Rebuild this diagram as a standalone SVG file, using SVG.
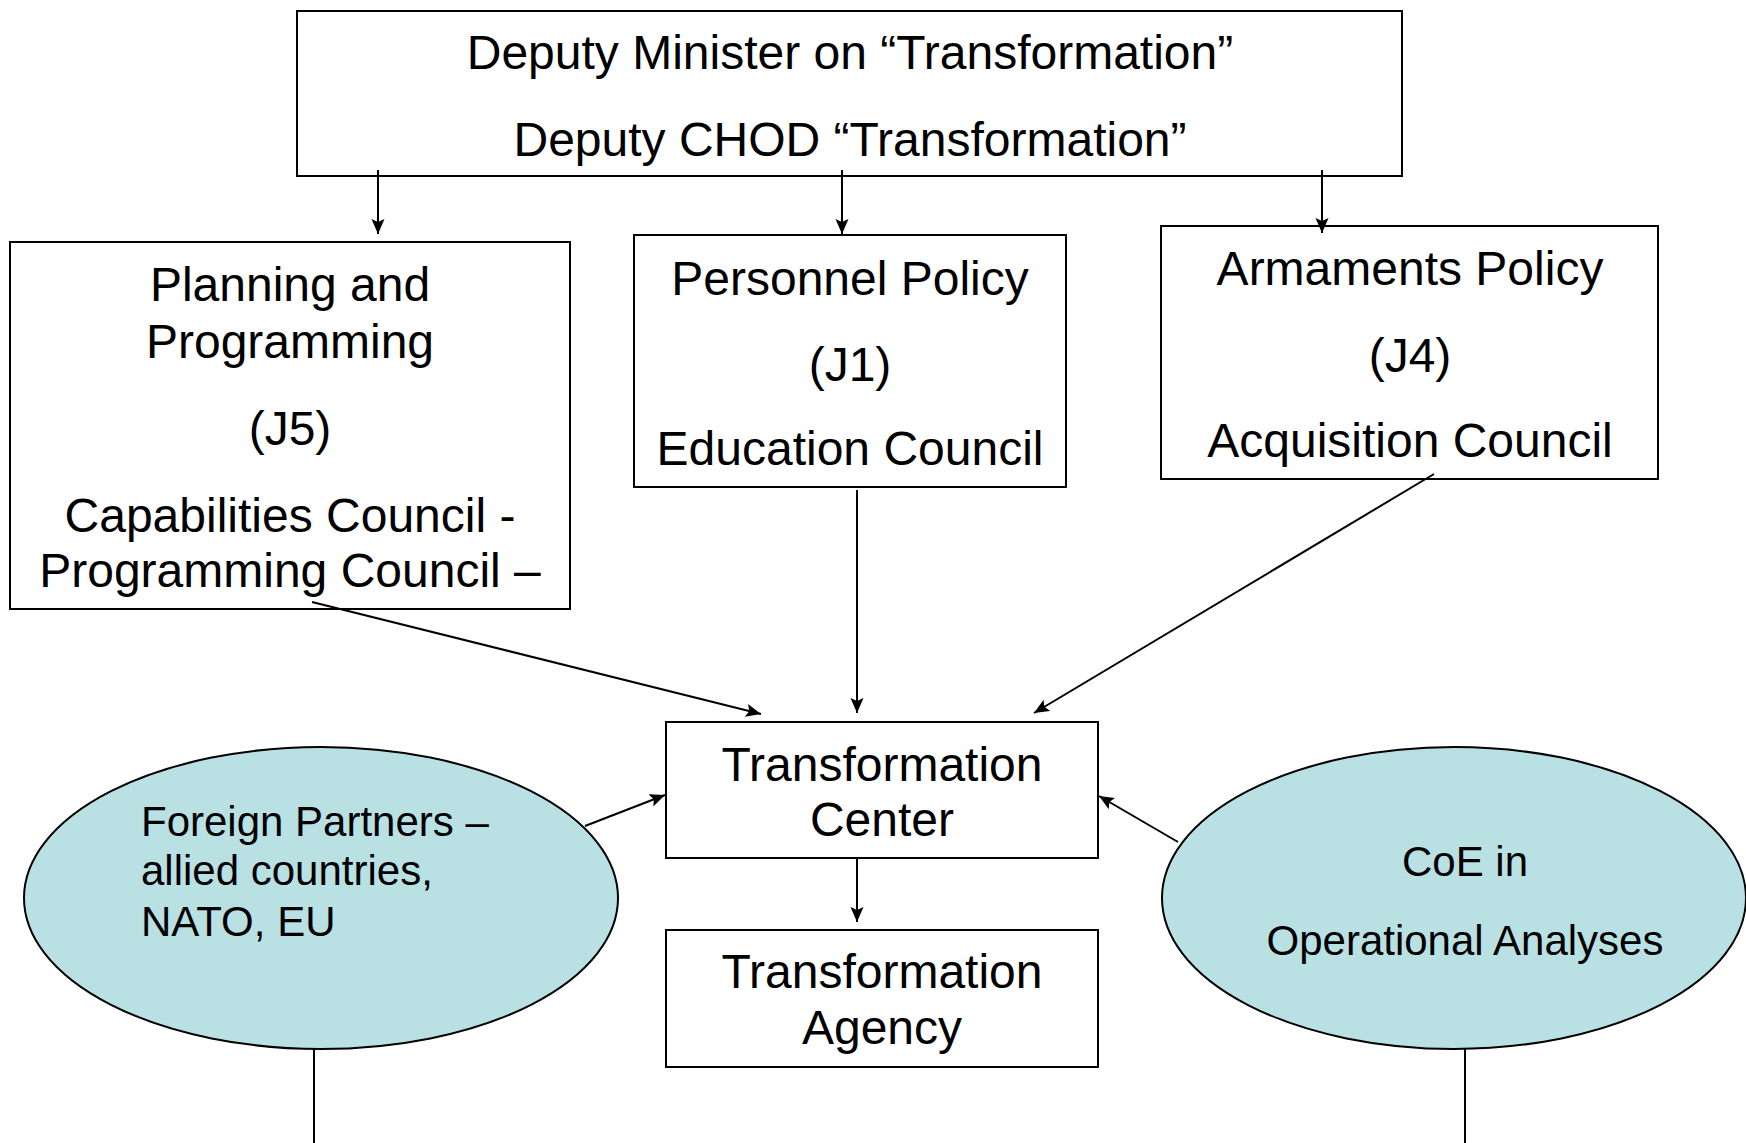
<svg xmlns="http://www.w3.org/2000/svg" width="1746" height="1143" viewBox="0 0 1746 1143">
<style>
.box{fill:#ffffff;stroke:#000000;stroke-width:2}
.ell{fill:#b9e0e3;stroke:#000000;stroke-width:2}
.t{font-family:"Liberation Sans",Arial,sans-serif;font-size:48px;fill:#000000;text-anchor:middle}
.s{font-family:"Liberation Sans",Arial,sans-serif;font-size:42px;fill:#000000}
.c{fill:none;stroke:#000000;stroke-width:2}
</style>
<defs>
<marker id="ah" markerUnits="userSpaceOnUse" markerWidth="16" markerHeight="14" refX="15" refY="6.5" orient="auto">
<path d="M0,0 L15,6.5 L0,13 L3,6.5 z" fill="#000000"/>
</marker>
</defs>
<rect width="1746" height="1143" fill="#ffffff"/>
<g id="deputy">
<rect class="box" x="297" y="11" width="1105" height="165"/>
<text class="t" x="850" y="69">Deputy Minister on “Transformation”</text>
<text class="t" x="850" y="156">Deputy CHOD “Transformation”</text>
</g>
<g id="planning">
<rect class="box" x="10" y="242" width="560" height="367"/>
<text class="t" x="290" y="301">Planning and</text>
<text class="t" x="290" y="358">Programming</text>
<text class="t" x="290" y="445">(J5)</text>
<text class="t" x="290" y="532">Capabilities Council -</text>
<text class="t" x="290" y="587">Programming Council –</text>
</g>
<g id="personnel">
<rect class="box" x="634" y="235" width="432" height="252"/>
<text class="t" x="850" y="295">Personnel Policy</text>
<text class="t" x="850" y="381">(J1)</text>
<text class="t" x="850" y="465">Education Council</text>
</g>
<g id="armaments">
<rect class="box" x="1161" y="226" width="497" height="253"/>
<text class="t" x="1410" y="285">Armaments Policy</text>
<text class="t" x="1410" y="372">(J4)</text>
<text class="t" x="1410" y="457">Acquisition Council</text>
</g>
<g id="center">
<rect class="box" x="666" y="722" width="432" height="136"/>
<text class="t" x="882" y="781">Transformation</text>
<text class="t" x="882" y="836">Center</text>
</g>
<g id="agency">
<rect class="box" x="666" y="930" width="432" height="137"/>
<text class="t" x="882" y="988">Transformation</text>
<text class="t" x="882" y="1044">Agency</text>
</g>
<g id="foreign">
<ellipse class="ell" cx="321" cy="898" rx="297" ry="151"/>
<text class="s" x="141" y="836">Foreign Partners –</text>
<text class="s" x="141" y="885">allied countries,</text>
<text class="s" x="141" y="936">NATO, EU</text>
</g>
<g id="coe">
<ellipse class="ell" cx="1454" cy="898" rx="292" ry="151"/>
<text class="s" x="1465" y="876" text-anchor="middle">CoE in</text>
<text class="s" x="1465" y="955" text-anchor="middle">Operational Analyses</text>
</g>
<g id="connectors">
<line class="c" x1="378" y1="170" x2="378" y2="234" marker-end="url(#ah)"/>
<line class="c" x1="842" y1="170" x2="842" y2="234" marker-end="url(#ah)"/>
<line class="c" x1="1322" y1="170" x2="1322" y2="233" marker-end="url(#ah)"/>
<line class="c" x1="312" y1="602" x2="761" y2="714" marker-end="url(#ah)"/>
<line class="c" x1="857" y1="490" x2="857" y2="713" marker-end="url(#ah)"/>
<line class="c" x1="1434" y1="474" x2="1034" y2="713" marker-end="url(#ah)"/>
<line class="c" x1="585" y1="826" x2="665" y2="795" marker-end="url(#ah)"/>
<line class="c" x1="1178" y1="842" x2="1099" y2="796" marker-end="url(#ah)"/>
<line class="c" x1="857" y1="858" x2="857" y2="922" marker-end="url(#ah)"/>
<line class="c" x1="314" y1="1049" x2="314" y2="1143"/>
<line class="c" x1="1465" y1="1049" x2="1465" y2="1143"/>
</g>
</svg>
